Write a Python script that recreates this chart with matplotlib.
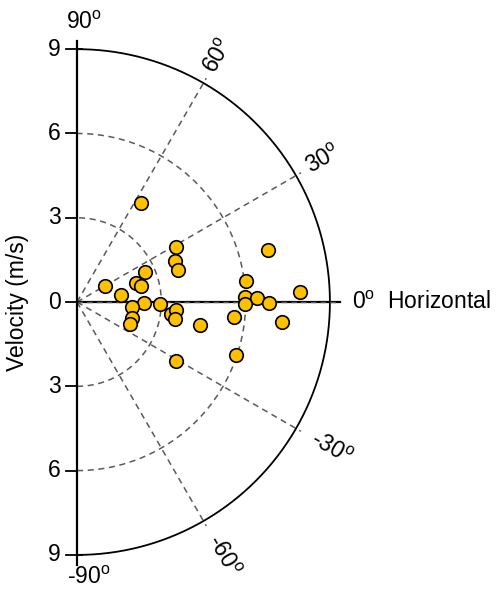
import numpy as np
import matplotlib
matplotlib.use("Agg")
import matplotlib.pyplot as plt

plt.rcParams['font.family'] = ['Liberation Sans', 'DejaVu Sans']
plt.rcParams['mathtext.fontset'] = 'custom'
plt.rcParams['mathtext.rm'] = 'Liberation Sans'
plt.rcParams['mathtext.default'] = 'regular'

# horizontal / vertical velocity components (m/s)
vx = [2.28, 3.53, 3.49, 3.59, 2.43, 2.11, 2.28, 0.98, 1.57, 2.37,
      2.95, 1.95, 3.35, 3.53, 3.49, 1.95, 1.87, 4.37, 3.53, 6.81,
      6.03, 5.97, 6.39, 5.98, 6.82, 7.95, 5.59, 7.31, 5.65]
vy = [3.51, 1.97, 1.45, 1.13, 1.07, 0.69, 0.57, 0.57, 0.25, -0.02,
      -0.07, -0.18, -0.43, -0.27, -0.60, -0.58, -0.78, -0.82, -2.10, 1.86,
      0.74, 0.17, 0.15, -0.08, -0.02, 0.37, -0.53, -0.71, -1.89]

rings = [3, 6]
r_max = 9
spokes = [60, 30, -30, -60]
tick_vals = [9, 6, 3, 0, -3, -6, -9]
tick_labels = ['9', '6', '3', '0', '3', '6', '9']

fs = 16.5

fig = plt.figure(figsize=(4.96, 5.92), dpi=100)
ax = fig.add_axes([0, 0, 1, 1])
ax.set_xlim(-2.74, 14.91)
ax.set_ylim(-10.32, 10.75)
ax.axis('off')

th = np.linspace(-np.pi / 2, np.pi / 2, 400)
for r in rings:
    ax.plot(r * np.cos(th), r * np.sin(th), ls=(0, (4, 3)), color='#5a5a5a', lw=1.1)
ax.plot(r_max * np.cos(th), r_max * np.sin(th), color='black', lw=1.3)

for a in spokes:
    t = np.radians(a)
    ax.plot([0, 9.2 * np.cos(t)], [0, 9.2 * np.sin(t)], ls=(0, (4, 3)), color='#5a5a5a', lw=1.1)

# horizontal axis
ax.plot([0, 9.36], [0, 0], color='black', lw=1.6)
ax.plot([0, 9.2], [0, 0], ls=(0, (4, 3)), color='#5a5a5a', lw=1)

# vertical axis with ticks
ax.plot([0, 0], [-9.36, 9.3], color='black', lw=1.6)
for v, lab in zip(tick_vals, tick_labels):
    right = 0.18 if abs(v) == 9 else 0
    ax.plot([-0.38, right], [v, v], color='black', lw=1.3)
    ax.text(-0.58, v, lab, ha='right', va='center', fontsize=fs)

ax.scatter(vx, vy, s=95, color='#FFC000', edgecolor='black', linewidth=1.2, zorder=5)

ax.text(0.25, 9.96, '90$^o$', ha='center', va='center', fontsize=fs)
ax.text(0.42, -9.82, '-90$^o$', ha='center', va='center', fontsize=fs)
for a, r in zip(spokes, [10.1, 10.1, 10.45, 10.4]):
    t = np.radians(a)
    ax.text(r * np.cos(t), r * np.sin(t), '%d$^o$' % a, ha='center', va='center',
            rotation=a, rotation_mode='anchor', fontsize=fs)
ax.text(9.79, 0, '0$^o$  Horizontal', ha='left', va='center', fontsize=fs)
ax.text(-2.1, 0, 'Velocity (m/s)', rotation=90, ha='center', va='center', fontsize=fs)

plt.savefig('out.png', dpi=100)
